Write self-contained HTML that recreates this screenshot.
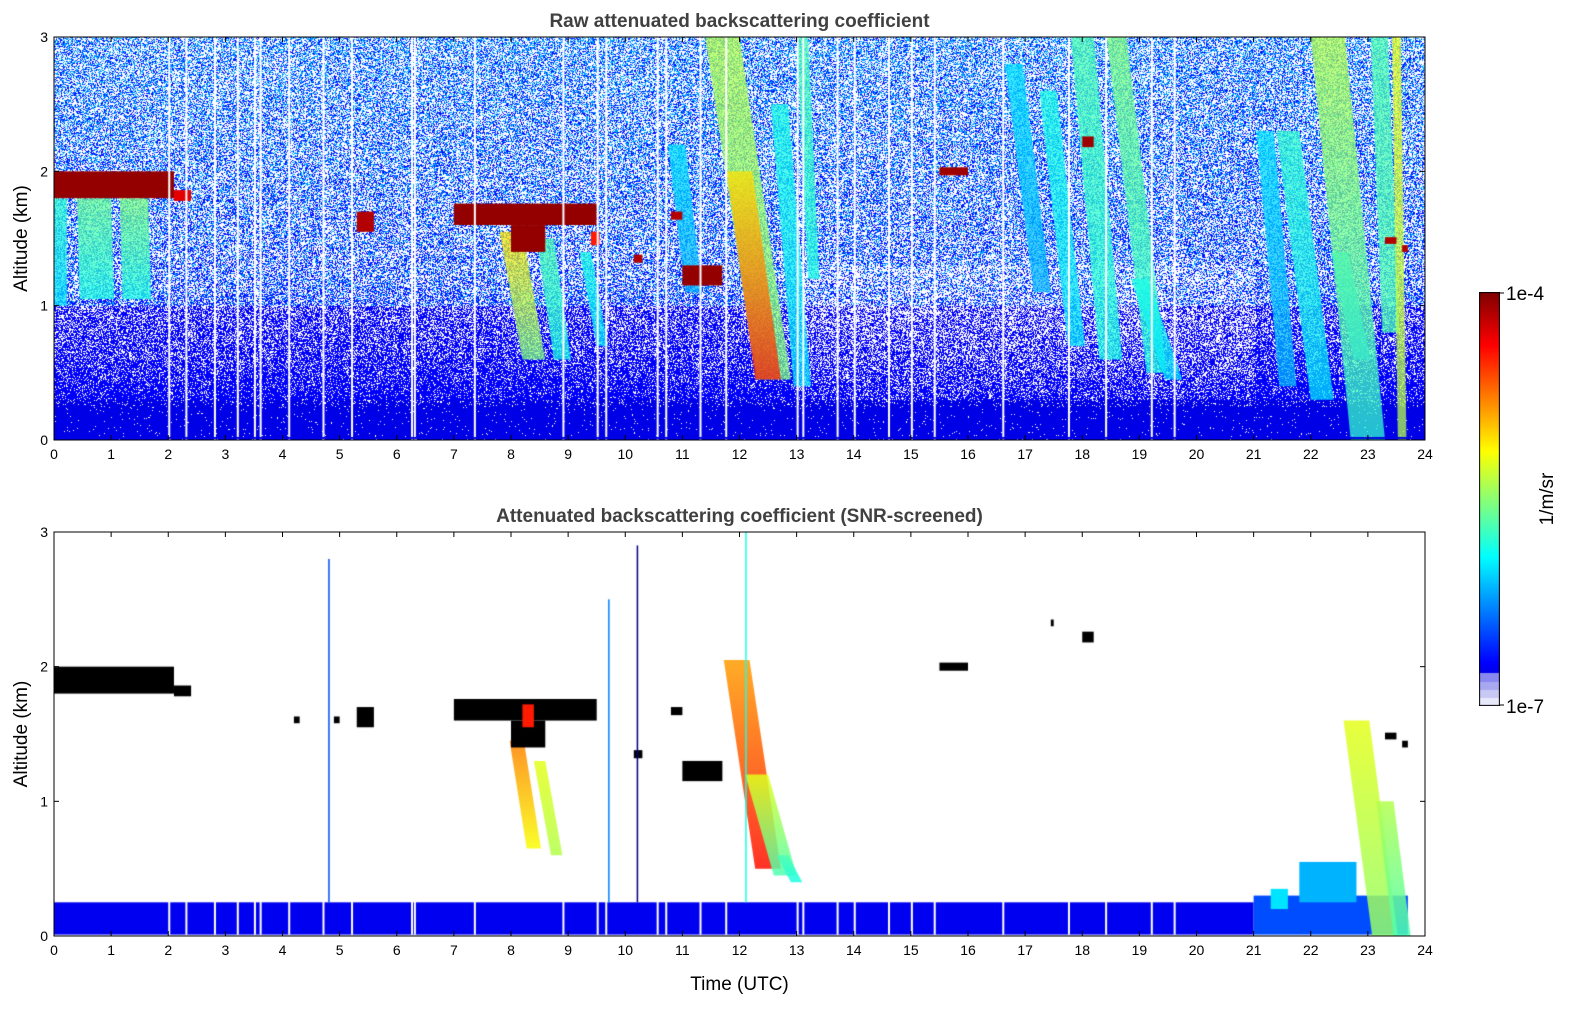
<!DOCTYPE html>
<html><head><meta charset="utf-8">
<style>
html,body{margin:0;padding:0;background:#fff;}
#root{position:relative;width:1595px;height:1020px;overflow:hidden;font-family:"Liberation Sans","DejaVu Sans",sans-serif;}
canvas{position:absolute;}
svg{position:absolute;left:0;top:0;}
</style></head>
<body>
<div id="root">
<canvas id="c1" width="1371" height="403" style="left:54px;top:37px"></canvas>
<canvas id="c2" width="1371" height="404" style="left:54px;top:532px"></canvas>
<canvas id="cb" width="21" height="414" style="left:1479px;top:292px"></canvas>
<svg id="ax" width="1595" height="1020"></svg>
</div>
<script>
// ---- data ----
const hourTicks=[0,1,2,3,4,5,6,7,8,9,10,11,12,13,14,15,16,17,18,19,20,21,22,23,24];
const kmTicks=[0,1,2,3];
// clouds: [hStart,hEnd,zBase,zTop,jetValue]
const cloudsTop=[[0,2.1,1.8,2.0,0.98],[2.1,2.4,1.78,1.86,0.9],[5.3,5.6,1.55,1.7,0.95],[7.0,9.5,1.6,1.76,0.98],[8.0,8.6,1.4,1.6,0.98],[9.4,9.55,1.45,1.55,0.85],[10.15,10.3,1.32,1.38,0.95],[10.8,11.0,1.64,1.7,0.95],[11.0,11.7,1.15,1.3,0.98],[15.5,16.0,1.97,2.03,0.97],[18.0,18.2,2.18,2.26,0.97],[23.3,23.5,1.46,1.51,0.95],[23.6,23.7,1.4,1.45,0.95]];
const cloudsBot=[[0,2.1,1.8,2.0,-1],[2.1,2.4,1.78,1.86,-1],[5.3,5.6,1.55,1.7,-1],[7.0,9.5,1.6,1.76,-1],[8.0,8.6,1.4,1.6,-1],[8.2,8.4,1.55,1.72,0.85],[10.15,10.3,1.32,1.38,-1],[10.8,11.0,1.64,1.7,-1],[11.0,11.7,1.15,1.3,-1],[15.5,16.0,1.97,2.03,-1],[18.0,18.2,2.18,2.26,-1],[23.3,23.5,1.46,1.51,-1],[23.6,23.7,1.4,1.45,-1],[4.2,4.3,1.58,1.63,-1],[4.9,5.0,1.58,1.63,-1],[17.45,17.5,2.3,2.35,-1]];
// plumes: [hTop,zTop,hBottom,zBottom,widthHours,jetTop,jetBottom]
const plumesTop=[[0.1,1.8,0.1,1.0,0.25,0.42,0.35],[0.7,1.8,0.75,1.05,0.6,0.48,0.4],[1.4,1.8,1.45,1.05,0.5,0.5,0.4],[8.0,1.55,8.4,0.6,0.4,0.65,0.5],[8.6,1.5,8.9,0.6,0.3,0.45,0.4],[9.3,1.4,9.6,0.7,0.2,0.4,0.35],[10.9,2.2,11.2,1.1,0.3,0.35,0.3],[11.7,3.0,12.6,0.45,0.6,0.55,0.5],[12.0,2.0,12.5,0.45,0.45,0.65,0.85],[12.7,2.5,13.1,0.4,0.3,0.4,0.35],[13.1,3.0,13.3,1.2,0.2,0.45,0.4],[16.8,2.8,17.3,1.1,0.3,0.35,0.3],[17.4,2.6,17.9,0.7,0.3,0.4,0.35],[18.0,3.0,18.5,0.6,0.4,0.45,0.4],[18.6,3.0,19.3,0.5,0.35,0.5,0.4],[19.0,1.2,19.6,0.45,0.3,0.4,0.35],[21.2,2.3,21.6,0.4,0.3,0.35,0.3],[21.6,2.3,22.2,0.3,0.4,0.42,0.35],[22.5,1.4,22.9,0.6,0.3,0.35,0.3],[22.3,3.0,23.0,0.0,0.6,0.55,0.42],[23.2,3.0,23.4,0.8,0.3,0.45,0.45],[23.5,3.0,23.6,0.0,0.15,0.6,0.55]];
const plumesBot=[[8.1,1.45,8.4,0.65,0.25,0.75,0.62],[8.5,1.3,8.8,0.6,0.2,0.6,0.55],[11.95,2.05,12.5,0.5,0.45,0.72,0.86],[12.3,1.2,12.8,0.45,0.4,0.6,0.45],[12.75,0.6,13.0,0.4,0.2,0.45,0.4],[22.8,1.6,23.3,0.0,0.45,0.6,0.52],[23.3,1.0,23.6,0.0,0.3,0.55,0.45]];
// vertical screened-out gaps (hours)
const gaps=[2.0,2.3,2.8,3.2,3.5,3.6,4.1,4.7,5.2,6.25,6.3,7.35,8.9,9.5,9.65,10.55,10.7,11.3,11.75,13.0,13.1,13.7,14.0,14.6,15.0,15.4,16.6,17.75,18.4,19.2,19.6];
// thin spikes in screened panel: [hour,zTop,jet]
const spikes=[[4.8,2.8,0.2],[9.7,2.5,0.25],[10.2,2.9,0.0],[12.1,3.0,0.4]];

function jet(t){const c=v=>Math.round(255*Math.max(0,Math.min(1,v)));
 return `rgb(${c(1.5-Math.abs(4*t-3))},${c(1.5-Math.abs(4*t-2))},${c(1.5-Math.abs(4*t-1))})`;}
function hash(i,j){let h=(i*374761393+j*668265263)^0x5bd1e995;h=(h^(h>>>13))*1274126177;return ((h^(h>>>16))>>>0)/4294967295;}

function setup(cv){const ctx=cv.getContext('2d');const W=cv.width,H=cv.height;
 return {ctx,W,H,x:h=>h/24*W,y:z=>H-z/3*H};}

function drawPlumes(P,list,a){const {ctx,x,y}=P;
 list.forEach(p=>{const [h0,z0,h1,z1,w,t0,t1]=p;
  const g=ctx.createLinearGradient(0,y(z0),0,y(z1));g.addColorStop(0,jet(t0));g.addColorStop(1,jet(t1));
  ctx.fillStyle=g;ctx.globalAlpha=a;ctx.beginPath();
  ctx.moveTo(x(h0-w/2),y(z0));ctx.lineTo(x(h0+w/2),y(z0));ctx.lineTo(x(h1+w/2),y(z1));ctx.lineTo(x(h1-w/2),y(z1));ctx.closePath();ctx.fill();ctx.globalAlpha=1;});}
function drawClouds(P,list){const {ctx,x,y}=P;
 list.forEach(c=>{const [h0,h1,z0,z1,t]=c;ctx.fillStyle=t<0?'#000':jet(t);ctx.fillRect(x(h0),y(z1),x(h1)-x(h0),y(z0)-y(z1));});}

// top panel
(function(){const P=setup(document.getElementById('c1'));const {ctx,W,H}=P;
 ctx.fillStyle='#fff';ctx.fillRect(0,0,W,H);
 const cs=1;
 for(let i=0;i<W;i+=cs){const h=i/W*24;
  for(let j=0;j<H;j+=cs){const z=(H-j)/H*3;const r=hash(i,j);
   let pWhite;
   if(z<0.25)pWhite=0.02;else if(z<0.6)pWhite=0.08+(z-0.25)*0.6;else if(z<1.2)pWhite=0.3+(z-0.6)*0.3;else pWhite=0.5;
   if(h>13&&h<21&&z>0.3&&z<1.3)pWhite+=0.12;
   if(r<pWhite)continue;
   let t=z<0.3?0.1:(z<1?0.12:(hash(j,i)<0.3+(z-1)*0.15?0.28:0.14));
   ctx.fillStyle=jet(t);ctx.fillRect(i,j,cs,cs);}}
 drawPlumes(P,plumesTop,0.75);drawClouds(P,cloudsTop);
 ctx.fillStyle='#fff';gaps.forEach(g=>ctx.fillRect(P.x(g),0,2,H));
 ctx.fillStyle=jet(0.1);ctx.fillRect(0,H-3,W,2);
})();
// bottom panel
(function(){const P=setup(document.getElementById('c2'));const {ctx,W,H,x,y}=P;
 ctx.fillStyle='#fff';ctx.fillRect(0,0,W,H);
 ctx.fillStyle=jet(0.11);ctx.fillRect(x(0),y(0.25),x(21)-x(0),y(0.01)-y(0.25));
 ctx.fillStyle=jet(0.2);ctx.fillRect(x(21),y(0.3),x(23.7)-x(21),y(0.01)-y(0.3));
 ctx.fillStyle=jet(0.3);ctx.fillRect(x(21.8),y(0.55),x(22.8)-x(21.8),y(0.25)-y(0.55));
 ctx.fillStyle=jet(0.35);ctx.fillRect(x(21.3),y(0.35),x(21.6)-x(21.3),y(0.2)-y(0.35));
 drawPlumes(P,plumesBot,0.85);drawClouds(P,cloudsBot);
 spikes.forEach(s=>{ctx.fillStyle=jet(s[2]);ctx.fillRect(x(s[0]),y(s[1]),1.5,y(0.25)-y(s[1]));});
 ctx.fillStyle='#fff';gaps.forEach(g=>ctx.fillRect(x(g),y(0.26),2,y(0.01)-y(0.26)));
})();
// colorbar
(function(){const cv=document.getElementById('cb');const ctx=cv.getContext('2d');const H=cv.height;
 for(let j=0;j<H;j++){const t=1-j/H;let col;
  if(t<0.08){const k=Math.floor(t/0.02);col=['#e8e8fb','#c8c8f5','#a8a8f0','#8888f0'][k]||'#8888f0';}
  else col=jet(0.1+(t-0.08)/0.92*0.9);
  ctx.fillStyle=col;ctx.fillRect(0,j,21,1);}
 ctx.strokeStyle='#000';ctx.strokeRect(0.5,0.5,20,H-1);
})();
// axes
(function(){const svg=document.getElementById('ax');const NS='http://www.w3.org/2000/svg';
 function el(tag,attrs,txt){const e=document.createElementNS(NS,tag);for(const k in attrs)e.setAttribute(k,attrs[k]);if(txt!==undefined)e.textContent=txt;svg.appendChild(e);return e;}
 const panels=[{top:37,bot:440,title:'Raw attenuated backscattering coefficient',n:'raw'},{top:532,bot:936,title:'Attenuated backscattering coefficient (SNR-screened)',n:'snr'}];
 const L=54,R=1425;
 panels.forEach((p,pi)=>{
  const f=el('rect',{x:L,y:p.top,width:R-L,height:p.bot-p.top,fill:'none',stroke:'#000','stroke-width':1});
  
  const t=el('text',{x:(L+R)/2,y:p.top-10,'text-anchor':'middle','font-size':'19','font-weight':'bold',fill:'#404040'},p.title);
  
  hourTicks.forEach(h=>{const xx=L+h/24*(R-L);
   el('line',{x1:xx,x2:xx,y1:p.bot,y2:p.bot-5,stroke:'#000'});el('line',{x1:xx,x2:xx,y1:p.top,y2:p.top+5,stroke:'#000'});
   const tl=el('text',{x:xx,y:p.bot+19,'text-anchor':'middle','font-size':'14'},String(h));
   });
  kmTicks.forEach(k=>{const yy=p.bot-k/3*(p.bot-p.top);
   el('line',{x1:L,x2:L+5,y1:yy,y2:yy,stroke:'#000'});el('line',{x1:R,x2:R-5,y1:yy,y2:yy,stroke:'#000'});
   const tl=el('text',{x:L-6,y:yy+5,'text-anchor':'end','font-size':'14'},String(k));
   });
  const yl=el('text',{x:0,y:0,'text-anchor':'middle','font-size':'19',transform:`translate(27,${(p.top+p.bot)/2}) rotate(-90)`},'Altitude (km)');
  
 });
 const xl=el('text',{x:(L+R)/2,y:990,'text-anchor':'middle','font-size':'19'},'Time (UTC)');
 
 const c1=el('text',{x:1506,y:300,'font-size':'19'},'1e-4');
 const c2=el('text',{x:1506,y:713,'font-size':'19'},'1e-7');
 el('line',{x1:1500,x2:1504,y1:293,y2:293,stroke:'#000'});el('line',{x1:1500,x2:1504,y1:705,y2:705,stroke:'#000'});
 const cu=el('text',{x:0,y:0,'text-anchor':'middle','font-size':'19',transform:'translate(1553,499) rotate(-90)'},'1/m/sr');
 
})();
</script>
</body></html>
